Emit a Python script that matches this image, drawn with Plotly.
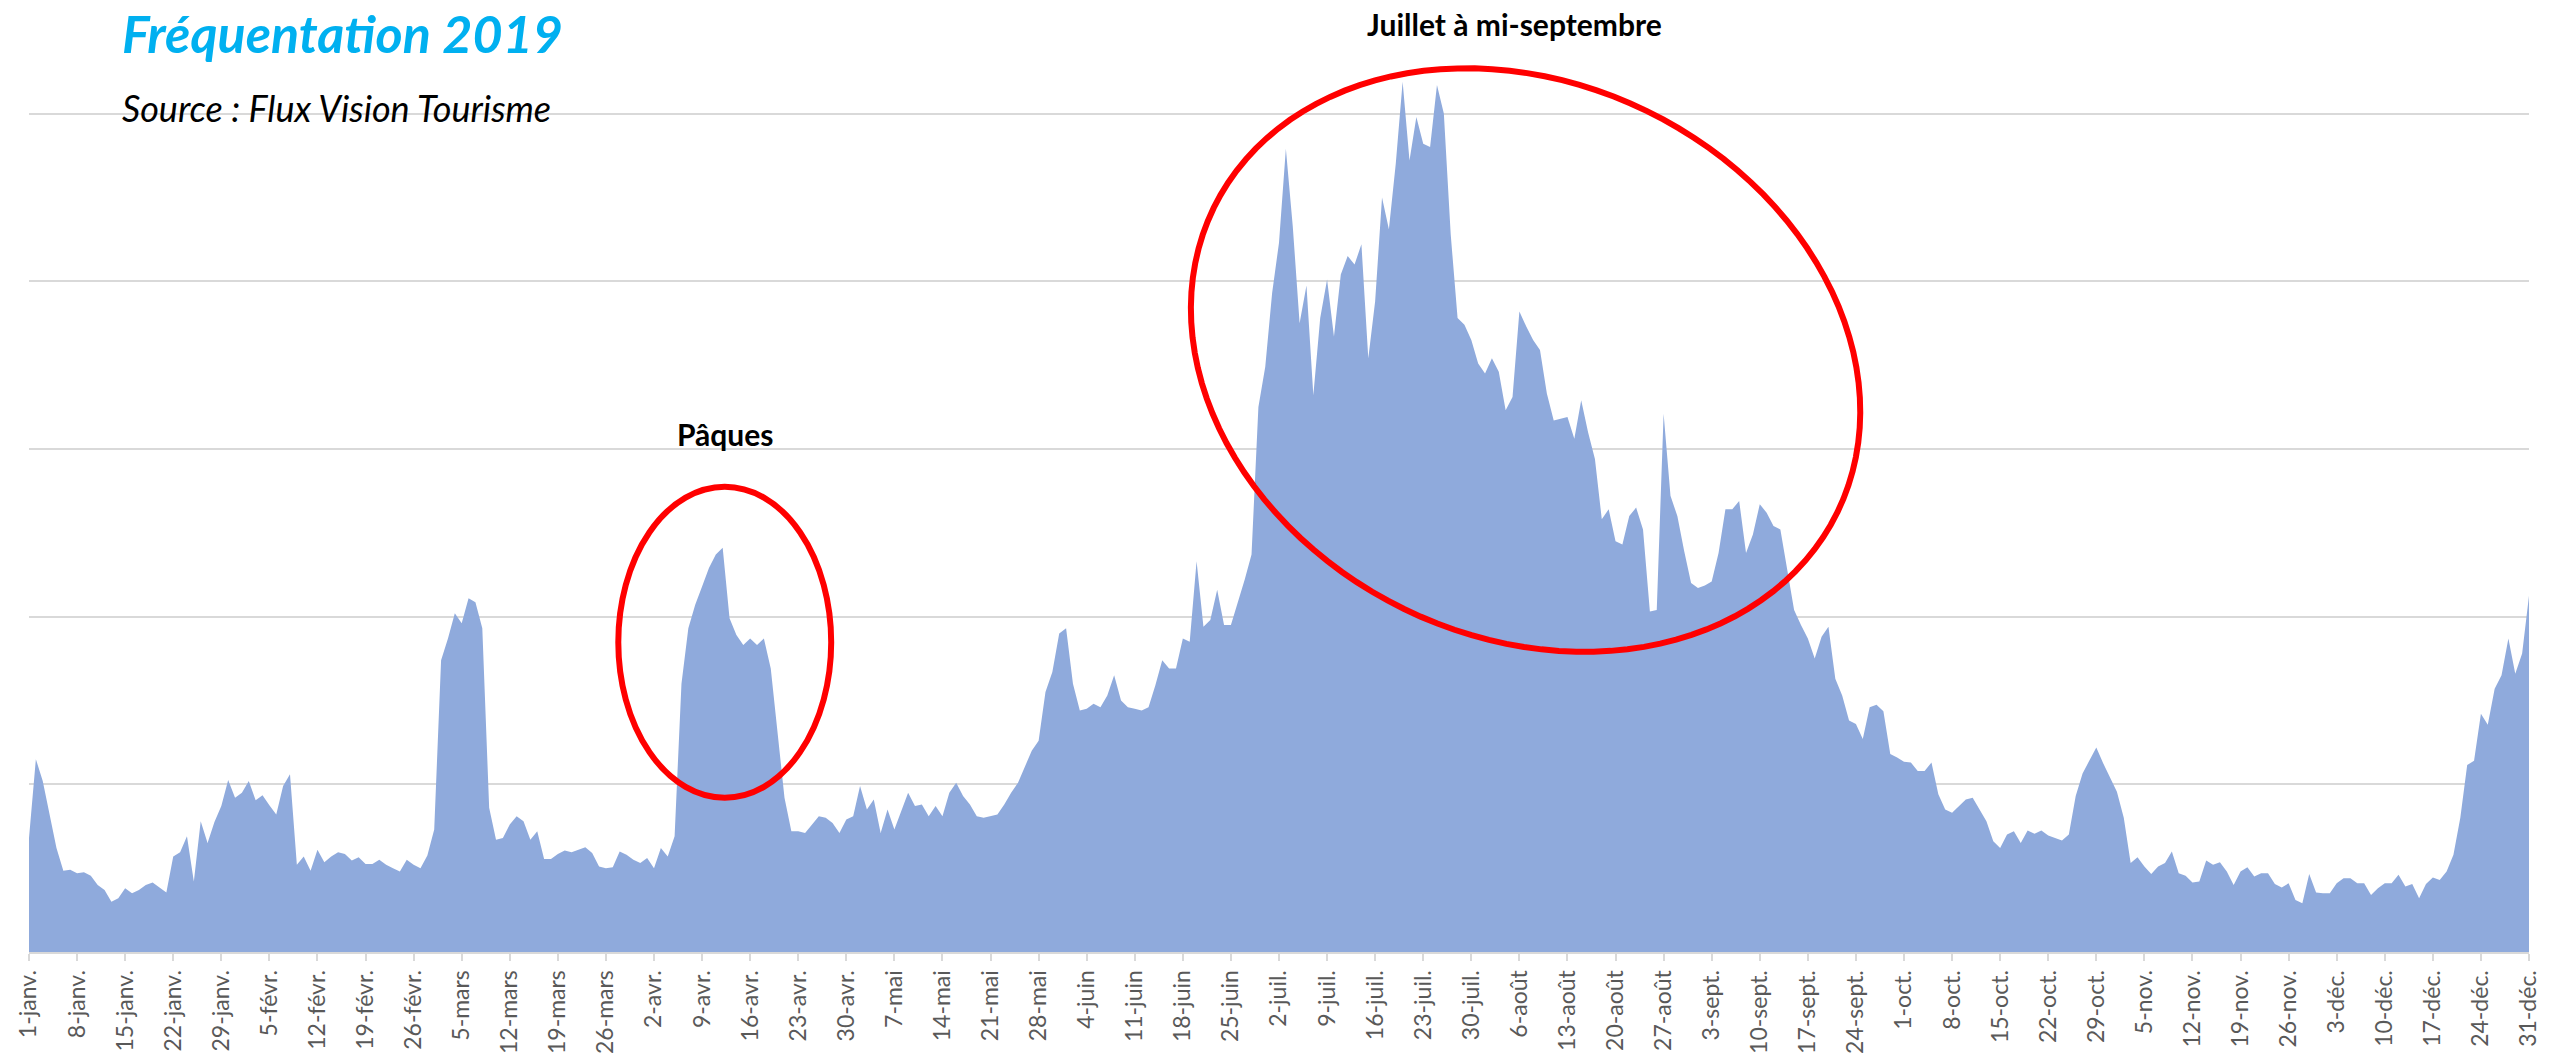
import math

import plotly.graph_objects as go

TITLE = "Fréquentation 2019"
SOURCE = "Source : Flux Vision Tourisme"

# daily attendance, 1 Jan -> 31 Dec 2019 (the original has no y scale, one gridline = 10)
frequentation = [
    6.8, 11.5, 10.2, 8.1, 6.2, 4.85, 4.9,        # 1-janv.
    4.7, 4.75, 4.55, 4.0, 3.7, 3.0, 3.2,         # 8-janv.
    3.8, 3.5, 3.7, 4.0, 4.15, 3.85, 3.55,        # 15-janv.
    5.7, 5.95, 6.9, 4.2, 7.8, 6.5, 7.75,         # 22-janv.
    8.7, 10.25, 9.2, 9.5, 10.2, 9.05, 9.35,      # 29-janv.
    8.75, 8.2, 9.9, 10.6, 5.2, 5.7, 4.85,        # 5-févr.
    6.1, 5.35, 5.7, 5.95, 5.85, 5.45, 5.65,      # 12-févr.
    5.25, 5.25, 5.5, 5.2, 5.0, 4.8, 5.5,         # 19-févr.
    5.2, 5.0, 5.75, 7.3, 17.4, 18.7, 20.2,       # 26-févr.
    19.6, 21.1, 20.85, 19.3, 8.6, 6.7, 6.8,      # 5-mars
    7.6, 8.1, 7.8, 6.7, 7.2, 5.55, 5.55,         # 12-mars
    5.85, 6.05, 5.95, 6.1, 6.25, 5.9, 5.1,       # 19-mars
    5.0, 5.05, 6.0, 5.8, 5.5, 5.3, 5.6,          # 26-mars
    5.0, 6.2, 5.7, 6.9, 16.0, 19.3, 20.7,        # 2-avr.
    21.8, 22.9, 23.7, 24.1, 19.9, 18.9, 18.3,    # 9-avr.
    18.7, 18.3, 18.7, 16.9, 13.1, 9.2, 7.2,      # 16-avr.
    7.2, 7.1, 7.6, 8.1, 8.0, 7.7, 7.1,           # 23-avr.
    7.9, 8.1, 9.9, 8.5, 9.1, 7.1, 8.5,           # 30-avr.
    7.3, 8.4, 9.5, 8.7, 8.8, 8.1, 8.7,           # 7-mai
    8.1, 9.5, 10.1, 9.3, 8.8, 8.1, 8.0,          # 14-mai
    8.1, 8.2, 8.8, 9.5, 10.1, 11.1, 12.0,        # 21-mai
    12.6, 15.5, 16.7, 19.0, 19.3, 16.0, 14.4,    # 28-mai
    14.5, 14.8, 14.6, 15.3, 16.5, 15.0, 14.6,    # 4-juin
    14.5, 14.4, 14.6, 15.9, 17.4, 16.9, 16.9,    # 11-juin
    18.7, 18.5, 23.3, 19.4, 19.8, 21.6, 19.5,    # 18-juin
    19.5, 20.8, 22.2, 23.7, 32.5, 34.9, 39.3,    # 25-juin
    42.3, 47.9, 43.3, 37.5, 39.75, 33.2, 37.8,   # 2-juil.
    40.1, 36.7, 40.4, 41.5, 41.0, 42.2, 35.4,    # 9-juil.
    38.8, 45.0, 43.1, 47.0, 51.9, 47.2, 49.8,    # 16-juil.
    48.2, 48.0, 51.7, 50.0, 42.8, 37.8, 37.4,    # 23-juil.
    36.5, 35.1, 34.5, 35.4, 34.6, 32.3, 33.1,    # 30-juil.
    38.2, 37.3, 36.5, 35.9, 33.3, 31.7, 31.8,    # 6-août
    31.9, 30.6, 32.9, 31.0, 29.4, 25.8, 26.4,    # 13-août
    24.5, 24.3, 26.0, 26.5, 25.2, 20.3, 20.4,    # 20-août
    32.1, 27.2, 26.0, 23.9, 22.0, 21.7, 21.85,   # 27-août
    22.1, 23.8, 26.4, 26.4, 26.9, 23.8, 24.9,    # 3-sept.
    26.7, 26.2, 25.4, 25.2, 22.7, 20.4, 19.5,    # 10-sept.
    18.7, 17.5, 18.8, 19.4, 16.3, 15.3, 13.8,    # 17-sept.
    13.6, 12.7, 14.6, 14.75, 14.35, 11.8, 11.6,  # 24-sept.
    11.35, 11.3, 10.8, 10.8, 11.3, 9.4, 8.5,     # 1-oct.
    8.3, 8.7, 9.1, 9.2, 8.5, 7.8, 6.6,           # 8-oct.
    6.2, 7.0, 7.2, 6.5, 7.25, 7.05, 7.25,        # 15-oct.
    6.95, 6.8, 6.65, 7.0, 9.3, 10.65, 11.45,     # 22-oct.
    12.2, 11.25, 10.35, 9.55, 8.0, 5.3, 5.65,    # 29-oct.
    5.1, 4.65, 5.1, 5.3, 6.0, 4.7, 4.55,         # 5-nov.
    4.15, 4.2, 5.45, 5.2, 5.35, 4.8, 4.0,        # 12-nov.
    4.8, 5.05, 4.5, 4.7, 4.7, 4.05, 3.85,        # 19-nov.
    4.1, 3.1, 2.9, 4.65, 3.55, 3.5, 3.5,         # 26-nov.
    4.1, 4.4, 4.4, 4.1, 4.1, 3.4, 3.8,           # 3-déc.
    4.1, 4.1, 4.6, 3.9, 4.05, 3.2, 4.05,         # 10-déc.
    4.45, 4.3, 4.8, 5.8, 8.0, 11.15, 11.4,       # 17-déc.
    14.2, 13.55, 15.7, 16.5, 18.7, 16.6, 17.8,   # 24-déc.
    21.25,                                       # 31-déc.
]

tick_labels = [
    "1-janv.", "8-janv.", "15-janv.", "22-janv.", "29-janv.",
    "5-févr.", "12-févr.", "19-févr.", "26-févr.",
    "5-mars", "12-mars", "19-mars", "26-mars",
    "2-avr.", "9-avr.", "16-avr.", "23-avr.", "30-avr.",
    "7-mai", "14-mai", "21-mai", "28-mai",
    "4-juin", "11-juin", "18-juin", "25-juin",
    "2-juil.", "9-juil.", "16-juil.", "23-juil.", "30-juil.",
    "6-août", "13-août", "20-août", "27-août",
    "3-sept.", "10-sept.", "17-sept.", "24-sept.",
    "1-oct.", "8-oct.", "15-oct.", "22-oct.", "29-oct.",
    "5-nov.", "12-nov.", "19-nov.", "26-nov.",
    "3-déc.", "10-déc.", "17-déc.", "24-déc.", "31-déc.",
]

jours = list(range(len(frequentation)))
tick_vals = jours[::7]

W, H = 2552, 1058
ML, MR, MT, MB = 29, 23, 0, 106
PLOT_W, PLOT_H = W - ML - MR, H - MT - MB
Y_MAX = 56.77
PX_DAY = PLOT_W / (len(jours) - 1)
PX_UNIT = PLOT_H / Y_MAX

BLUE_FILL = "#8FAADC"
GRID = "#D9D9D9"
RED = "#FF0000"


def paper_x(px):
    return (px - ML) / PLOT_W


def paper_y(py):
    return (PLOT_H + MT - py) / PLOT_H


def tilted_ellipse(cx, cy, a, b, angle_deg, n=120):
    """ellipse path in data coords; a, b in screen pixels, angle clockwise on screen"""
    th = math.radians(angle_deg)
    pts = []
    for i in range(n + 1):
        t = 2 * math.pi * i / n
        dx = a * math.cos(t) * math.cos(th) - b * math.sin(t) * math.sin(th)
        dy = a * math.cos(t) * math.sin(th) + b * math.sin(t) * math.cos(th)
        pts.append((cx + dx / PX_DAY, cy - dy / PX_UNIT))
    return "M " + " L ".join(f"{x:.3f},{y:.3f}" for x, y in pts) + " Z"


fig = go.Figure()
fig.add_trace(go.Scatter(
    x=jours, y=frequentation, mode="lines", fill="tozeroy",
    fillcolor=BLUE_FILL, line=dict(width=0, color=BLUE_FILL),
    hoverinfo="skip", showlegend=False,
))

# --- highlight rings ---
fig.add_shape(
    type="circle", xref="x", yref="y", x0=85.8, x1=116.8, y0=9.2, y1=27.75,
    line=dict(color=RED, width=6),
)
fig.add_shape(
    type="path", xref="x", yref="y",
    path=tilted_ellipse(217.9, 35.3, 347, 277, 26),
    line=dict(color=RED, width=6),
)

annotations = [
    dict(text=f"<b><i>{TITLE}</i></b>", x=paper_x(120), y=paper_y(33),
         xanchor="left", yanchor="middle", font=dict(size=52, color="#00B0F0")),
    dict(text=f"<i>{SOURCE}</i>", x=paper_x(120), y=paper_y(108),
         xanchor="left", yanchor="middle", font=dict(size=36, color="#000000")),
    dict(text="<b>Pâques</b>", x=paper_x(725), y=paper_y(434),
         xanchor="center", yanchor="middle", font=dict(size=30, color="#000000")),
    dict(text="<b>Juillet à mi-septembre</b>", x=paper_x(1514), y=paper_y(24),
         xanchor="center", yanchor="middle", font=dict(size=30, color="#000000")),
]
for a in annotations:
    a.update(xref="paper", yref="paper", showarrow=False)

fig.update_layout(
    width=W, height=H,
    margin=dict(l=ML, r=MR, t=MT, b=MB),
    paper_bgcolor="white", plot_bgcolor="white",
    font=dict(family="Lato, 'Noto Sans', sans-serif", color="#595959"),
    annotations=annotations,
    hovermode=False,
)
fig.update_xaxes(
    range=[0, len(jours) - 1], tickmode="array", tickvals=tick_vals, ticktext=tick_labels,
    tickangle=-90, tickfont=dict(size=23, color="#595959"),
    ticks="outside", ticklen=7, tickwidth=2, tickcolor=GRID,
    showline=True, linecolor=GRID, linewidth=2, showgrid=False, zeroline=False,
)
fig.update_yaxes(
    range=[0, Y_MAX], dtick=10, showticklabels=False, ticks="",
    showgrid=True, gridcolor=GRID, gridwidth=2, zeroline=False, showline=False,
)

# page has a default 8px body margin; drop it so the figure sits at the window corner
fig.write_html(
    "out.html",
    config={"displayModeBar": False},
    post_script="document.body.style.margin='0';document.body.style.overflow='hidden';",
)
